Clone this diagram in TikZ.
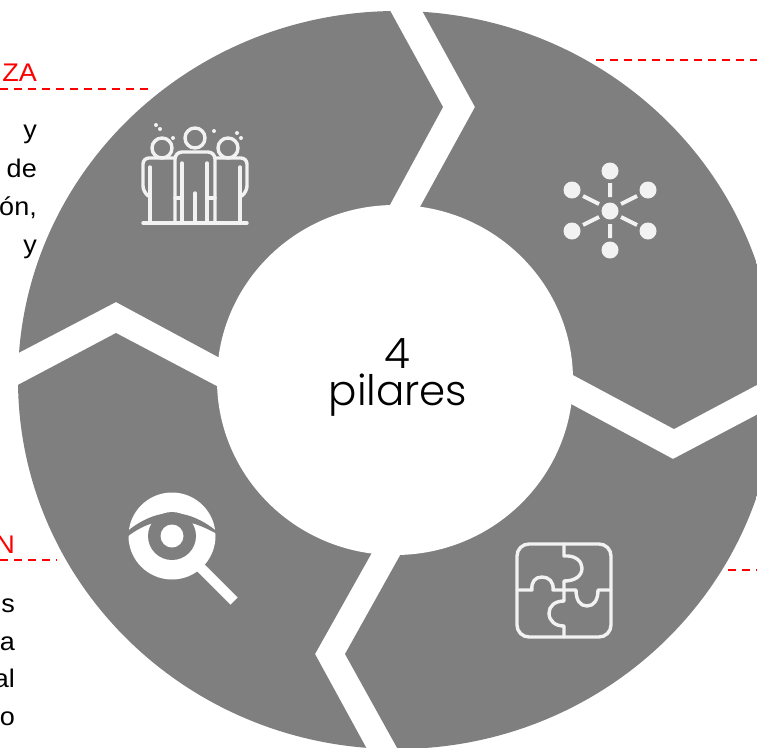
\documentclass[tikz,border=0pt]{standalone}
\usepackage{fontspec}
\setmainfont{Liberation Sans}
\newfontfamily\lab[FakeStretch=1.06]{Liberation Sans}
\newfontfamily\ctr[UprightFont=* Light]{Poppins}
\definecolor{seg}{HTML}{7F7F7F}
\definecolor{ico}{HTML}{F2F2F2}
\definecolor{redline}{HTML}{FF0000}
\tikzset{
  px/.style={x=1pt,y=-1pt},
  redlabel/.style={anchor=base east,inner sep=0pt,text=redline,font=\lab\fontsize{25.5}{25.5}\selectfont},
  bodytext/.style={anchor=base east,inner sep=0pt,text=black,font=\lab\fontsize{25.5}{25.5}\selectfont},
  centertext/.style={anchor=base,inner sep=0pt,text=black,font=\ctr\fontsize{42}{42}\selectfont},
  leader/.style={draw=redline,line width=1.4pt,dash pattern=on 8pt off 6pt},
  icoline/.style={draw=ico,line width=3.4pt,line cap=round,line join=round},
}
\begin{document}
\begin{tikzpicture}[px]
\useasboundingbox (0,0) rectangle (757,747);
\clip (0,0) rectangle (757,747);
% ring segments
\begin{scope}
  \clip (397,380) ellipse [x radius=379pt,y radius=369pt];
  \fill[seg] (376,-15) -- (443,107) -- (373,236) -- (246,372) -- (116,302) -- (-20,373) -- (-60,-60) -- cycle;
  \fill[seg] (408,-15) -- (475,107) -- (403,238) -- (545,360) -- (674,429) -- (800,362) -- (820,-40) -- cycle;
  \fill[seg] (800,392) -- (673,459) -- (543,389) -- (417,525) -- (345,654) -- (416,782) -- (820,800) -- cycle;
  \fill[seg] (385,782) -- (315,654) -- (388,524) -- (245,401) -- (116,333) -- (-20,405) -- (-40,800) -- cycle;
\end{scope}
\fill[white] (395,380) ellipse [x radius=178pt,y radius=175pt];
% leaders
\draw[leader] (0,89) -- (148,89);
\draw[leader] (596,60) -- (757,60);
\draw[leader] (728,570) -- (757,570);
\draw[leader] (0,560) -- (57,560);
% texts
\node[redlabel] (t1) at (37,81) {ZA};
\node[bodytext] (b1) at (37,138) {y};
\node[bodytext] (b2) at (37,177) {de};
\node[bodytext] (b3) at (37,215) {ón,};
\node[bodytext] (b4) at (37,253) {y};
\node[redlabel] (t2) at (15,553) {N};
\node[bodytext] (c1) at (15,612) {s};
\node[bodytext] (c2) at (15,650) {a};
\node[bodytext] (c3) at (15,687) {al};
\node[bodytext] (c4) at (15,725) {o};
\node[centertext] (n4) at (397,368) {4};
\node[centertext] (np) at (398,405) {pilares};
% network icon
\fill[ico] (610,211) circle (8.5pt) (610,171) circle (8.5pt) (610,250) circle (8.5pt)
  (572,190) circle (8.5pt) (648,190) circle (8.5pt) (572,231) circle (8.5pt) (648,231) circle (8.5pt);
\draw[ico,line width=4pt] (610,183) -- (610,197) (610,224) -- (610,238)
  (583,196) -- (599,204) (637,196) -- (621,204) (583,225) -- (599,217) (637,225) -- (621,217);
% puzzle icon
\draw[icoline,rounded corners=12pt] (517,590) -- (517,544) -- (611,544) -- (611,637) -- (517,637) -- cycle;
\draw[icoline] (564,544) -- (564,556) .. controls (575,555) and (582,561) .. (582,568) .. controls (582,576) and (575,581) .. (564,581) -- (564,590);
\draw[icoline] (517,590) -- (532,590) .. controls (531,582) and (535,577) .. (542,577) .. controls (549,577) and (554,582) .. (553,590) -- (576,590)
  .. controls (576,600) and (580,606) .. (587,606) .. controls (594,606) and (598,600) .. (598,590) -- (611,590);
\draw[icoline] (564,590) -- (564,601) .. controls (555,601) and (549,606) .. (549,613) .. controls (549,621) and (555,626) .. (564,626) -- (564,637);
% eye icon
\fill[white] (172,536) circle (43.5pt);
\fill[seg] (127,531.5) .. controls (142,519) and (158,513) .. (172,513) .. controls (186,513) and (202,519) .. (217,531.5)
  -- (217,534) .. controls (203,526) and (190,521) .. (172,520) .. controls (154,521) and (141,526) .. (127,537) -- cycle;
\fill[seg] (172,536) circle (24pt);
\fill[white] (172,536) circle (11.5pt);
\draw[white,line width=10pt] (200,567) -- (234,601);
% people icon
\draw[icoline] (195,138) circle (10pt) (162,148) circle (10pt) (228,148) circle (10pt);
\draw[icoline] (143,223) -- (247,223);
\draw[icoline,rounded corners=7pt] (175,223) -- (175,152) -- (215,152) -- (215,223);
\draw[icoline] (182,163) -- (182,223) (207,163) -- (207,223) (195,193) -- (195,223) (175,198) -- (182,198) (207,198) -- (215,198);
\draw[icoline,rounded corners=6pt] (175,158) -- (143,158) -- (143,192) -- (150,197);
\draw[icoline] (150,167) -- (150,223);
\draw[icoline,rounded corners=6pt] (215,158) -- (247,158) -- (247,192) -- (240,197);
\draw[icoline] (240,167) -- (240,223);
\fill[ico] (156,125) circle (2pt) (160,129) circle (2pt) (173,138) circle (2pt) (214,131) circle (2pt) (237,133) circle (2pt) (241,138) circle (2pt);
\end{tikzpicture}
\end{document}
